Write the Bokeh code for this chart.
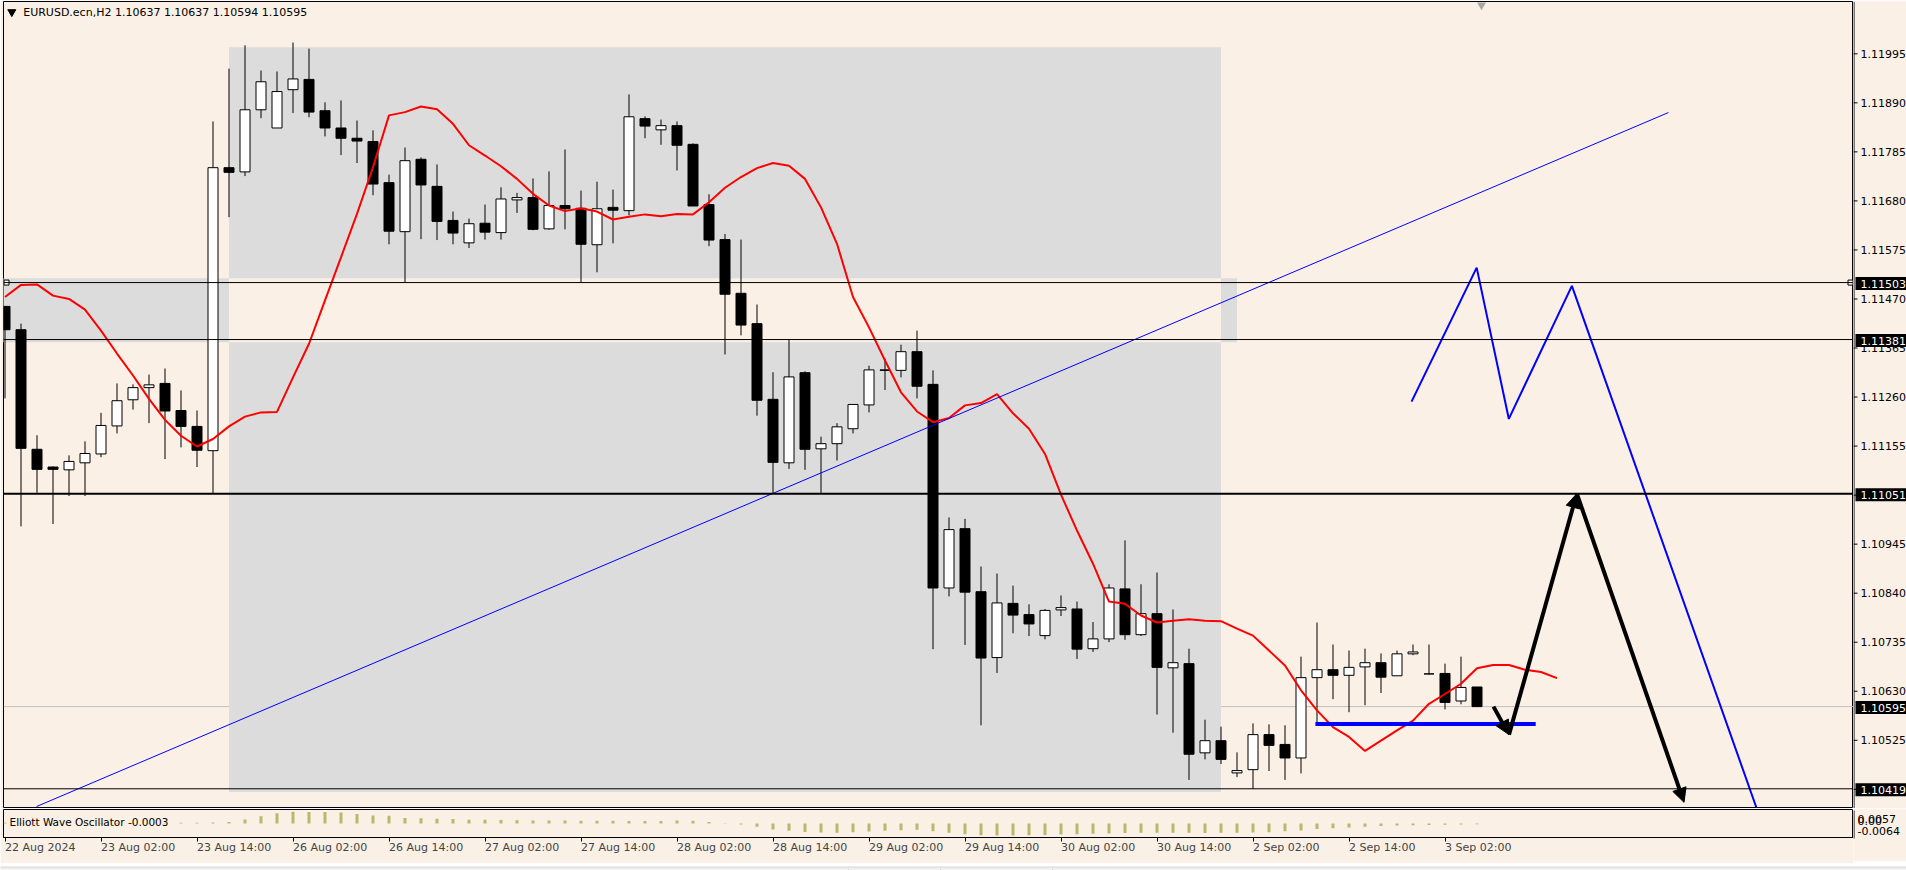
from bokeh.plotting import figure
from bokeh.models import (ColumnDataSource, Range1d, FixedTicker, Span, Label, Arrow, NormalHead)
from bokeh.layouts import column, row
from bokeh.embed import file_html
from bokeh.resources import INLINE
from bokeh.core.properties import value

# ---------------- data ----------------
symbol_title = "EURUSD.ecn,H2  1.10637 1.10637 1.10594 1.10595"
osc_title = "Elliott Wave Oscillator -0.0003"

opens = [1.11452, 1.11402, 1.11146, 1.11108, 1.11102, 1.11117, 1.11136, 1.11196, 1.11252, 1.11278,
         1.11287, 1.11229, 1.11195, 1.11143, 1.11749, 1.11740, 1.11873, 1.11834, 1.11916, 1.11938,
         1.11871, 1.11834, 1.11812, 1.11805, 1.11717, 1.11612, 1.11767, 1.11709, 1.11636, 1.11588,
         1.11630, 1.11610, 1.11680, 1.11685, 1.11618, 1.11668, 1.11662, 1.11584, 1.11664, 1.11657,
         1.11854, 1.11830, 1.11839, 1.11799, 1.11670, 1.11595, 1.11480, 1.11415, 1.11253, 1.11117,
         1.11310, 1.11147, 1.11158, 1.11190, 1.11241, 1.11316, 1.11315, 1.11355, 1.11285, 1.10849,
         1.10976, 1.10841, 1.10700, 1.10816, 1.10792, 1.10747, 1.10802, 1.10804, 1.10719, 1.10740,
         1.10847, 1.10749, 1.10794, 1.10678, 1.10687, 1.10496, 1.10522, 1.10453, 1.10460, 1.10535,
         1.10514, 1.10485, 1.10657, 1.10674, 1.10662, 1.10680, 1.10689, 1.10661, 1.10708, 1.10665,
         1.10666, 1.10607, 1.10637]
highs = [1.11452, 1.11415, 1.11176, 1.11109, 1.11133, 1.11163, 1.11224, 1.11287, 1.11285, 1.11306,
         1.11319, 1.11272, 1.11229, 1.11848, 1.11961, 1.12011, 1.11957, 1.11955, 1.12017, 1.12004,
         1.11889, 1.11893, 1.11850, 1.11829, 1.11734, 1.11792, 1.11771, 1.11756, 1.11655, 1.11640,
         1.11670, 1.11707, 1.11695, 1.11726, 1.11741, 1.11788, 1.11700, 1.11719, 1.11702, 1.11906,
         1.11859, 1.11852, 1.11848, 1.11801, 1.11692, 1.11607, 1.11595, 1.11456, 1.11311, 1.11381,
         1.11313, 1.11173, 1.11202, 1.11242, 1.11325, 1.11340, 1.11370, 1.11400, 1.11315, 1.11000,
         1.10997, 1.10895, 1.10880, 1.10854, 1.10814, 1.10804, 1.10833, 1.10820, 1.10776, 1.10857,
         1.10951, 1.10857, 1.10882, 1.10803, 1.10719, 1.10567, 1.10552, 1.10497, 1.10559, 1.10557,
         1.10555, 1.10702, 1.10775, 1.10728, 1.10715, 1.10719, 1.10709, 1.10715, 1.10728, 1.10728,
         1.10687, 1.10702, 1.10637]
lows = [1.11255, 1.10981, 1.11053, 1.10986, 1.11046, 1.11046, 1.11129, 1.11180, 1.11231, 1.11202,
        1.11125, 1.11150, 1.11108, 1.11052, 1.11643, 1.11731, 1.11855, 1.11834, 1.11866, 1.11857,
        1.11816, 1.11776, 1.11759, 1.11690, 1.11585, 1.11503, 1.11596, 1.11594, 1.11585, 1.11577,
        1.11595, 1.11595, 1.11652, 1.11615, 1.11616, 1.11617, 1.11503, 1.11525, 1.11587, 1.11647,
        1.11812, 1.11798, 1.11743, 1.11667, 1.11581, 1.11349, 1.11390, 1.11218, 1.11051, 1.11104,
        1.11102, 1.11051, 1.11122, 1.11180, 1.11225, 1.11273, 1.11300, 1.11255, 1.10718, 1.10831,
        1.10727, 1.10555, 1.10667, 1.10752, 1.10746, 1.10739, 1.10789, 1.10697, 1.10712, 1.10733,
        1.10738, 1.10746, 1.10578, 1.10539, 1.10438, 1.10482, 1.10472, 1.10444, 1.10419, 1.10457,
        1.10438, 1.10452, 1.10562, 1.10611, 1.10583, 1.10598, 1.10624, 1.10661, 1.10705, 1.10664,
        1.10589, 1.10600, 1.10594]
closes = [1.11402, 1.11148, 1.11103, 1.11103, 1.11120, 1.11137, 1.11197, 1.11250, 1.11278, 1.11284,
          1.11228, 1.11195, 1.11144, 1.11749, 1.11739, 1.11873, 1.11933, 1.11912, 1.11939, 1.11868,
          1.11834, 1.11812, 1.11806, 1.11714, 1.11613, 1.11764, 1.11712, 1.11634, 1.11609, 1.11629,
          1.11611, 1.11682, 1.11685, 1.11617, 1.11668, 1.11661, 1.11585, 1.11661, 1.11658, 1.11858,
          1.11838, 1.11839, 1.11797, 1.11667, 1.11594, 1.11478, 1.11412, 1.11251, 1.11118, 1.11301,
          1.11146, 1.11158, 1.11194, 1.11242, 1.11316, 1.11315, 1.11355, 1.11281, 1.10849, 1.10974,
          1.10840, 1.10699, 1.10817, 1.10791, 1.10772, 1.10801, 1.10807, 1.10718, 1.10740, 1.10849,
          1.10749, 1.10794, 1.10679, 1.10689, 1.10493, 1.10522, 1.10482, 1.10458, 1.10535, 1.10512,
          1.10485, 1.10657, 1.10674, 1.10662, 1.10679, 1.10689, 1.10658, 1.10708, 1.10712, 1.10665,
          1.10604, 1.10636, 1.10595]

# shifted moving average (red), one value per bar, runs 5 bars past the last candle
ma_values = [1.11472, 1.11498, 1.11499, 1.11475, 1.11468, 1.11445, 1.11400, 1.11351, 1.11304, 1.11254,
             1.11209, 1.11175, 1.11152, 1.11168, 1.11195, 1.11216, 1.11225, 1.11226, 1.11300, 1.11372,
             1.11465, 1.11557, 1.11650, 1.11750, 1.11861, 1.11868, 1.11880, 1.11874, 1.11843, 1.11797,
             1.11775, 1.11752, 1.11725, 1.11693, 1.11668, 1.11656, 1.11662, 1.11655, 1.11638, 1.11644,
             1.11649, 1.11645, 1.11650, 1.11649, 1.11675, 1.11706, 1.11729, 1.11748, 1.11759, 1.11753,
             1.11725, 1.11664, 1.11586, 1.11472, 1.11407, 1.11336, 1.11268, 1.11227, 1.11204, 1.11213,
             1.11240, 1.11245, 1.11264, 1.11223, 1.11190, 1.11136, 1.11049, 1.10972, 1.10901, 1.10820,
             1.10815, 1.10790, 1.10775, 1.10779, 1.10782, 1.10779, 1.10778, 1.10762, 1.10747, 1.10715,
             1.10683, 1.10630, 1.10587, 1.10551, 1.10530, 1.10500, 1.10522, 1.10544, 1.10565, 1.10601,
             1.10622, 1.10644, 1.10677, 1.10684, 1.10684, 1.10674, 1.10669, 1.10656]

ewo_values = [0.0003, 0.0002, 0.0002, 0.0002, 0.0002, 0.0002, 0.0002, 0.0002, 0.0002, 0.0002,
              0.0002, 0.0003, 0.0003, 0.0004, 0.0006, 0.0017, 0.0031, 0.0044, 0.0050, 0.0049,
              0.0049, 0.0047, 0.0041, 0.0034, 0.0033, 0.0024, 0.0022, 0.0020, 0.0019, 0.0016,
              0.0016, 0.0015, 0.0014, 0.0013, 0.0013, 0.0013, 0.0012, 0.0012, 0.0012, 0.0011,
              0.0011, 0.0011, 0.0013, 0.0012, 0.0006, 0.0001, -0.0004, -0.0014, -0.0026, -0.0031,
              -0.0036, -0.0039, -0.0040, -0.0038, -0.0034, -0.0031, -0.0029, -0.0027, -0.0033, -0.0040,
              -0.0046, -0.0050, -0.0051, -0.0051, -0.0050, -0.0049, -0.0047, -0.0046, -0.0044, -0.0043,
              -0.0041, -0.0040, -0.0040, -0.0040, -0.0040, -0.0041, -0.0040, -0.0040, -0.0039, -0.0037,
              -0.0033, -0.0030, -0.0024, -0.0020, -0.0017, -0.0014, -0.0011, -0.0009, -0.0008, -0.0006,
              -0.0005, -0.0004, -0.0003]

price_ticks = [1.11995, 1.11890, 1.11785, 1.11680, 1.11575, 1.11470, 1.11365, 1.11260,
               1.11155, 1.11050, 1.10945, 1.10840, 1.10735, 1.10630, 1.10525, 1.10420]
time_tick_bars = [0, 6, 12, 18, 24, 30, 36, 42, 48, 54, 60, 66, 72, 78, 84, 90]
time_tick_labels = ["22 Aug 2024", "23 Aug 02:00", "23 Aug 14:00", "26 Aug 02:00", "26 Aug 14:00",
                    "27 Aug 02:00", "27 Aug 14:00", "28 Aug 02:00", "28 Aug 14:00", "29 Aug 02:00",
                    "29 Aug 14:00", "30 Aug 02:00", "30 Aug 14:00", "2 Sep 02:00", "2 Sep 14:00",
                    "3 Sep 02:00"]
osc_scale_labels = ["0.0057", "0.00", "-0.0064"]

level_lines = [1.11503, 1.11381, 1.11051, 1.10419]
level_widths = [1, 1, 2, 1]
current_price = 1.10595

# drawn objects (bar index, price)
zone_left = [14, -1]
zone_right = [76, 77]
zone_bottom = [1.10412, 1.11375]
zone_top = [1.12007, 1.11512]

trend_x = [1.97, 103.96]
trend_y = [1.10381, 1.11867]

wave_x = [87.91, 91.98, 93.99, 97.93, 109.46]
wave_y = [1.11248, 1.11535, 1.11211, 1.11496, 1.10379]

support_x = [81.9, 95.67]
support_y = [1.10558, 1.10558]

arrow_x0 = [93.03, 94.0, 98.24]
arrow_y0 = [1.10595, 1.10535, 1.11051]
arrow_x1 = [94.0, 98.24, 104.94]
arrow_y1 = [1.10535, 1.11051, 1.10390]

# ---------------- geometry / styling ----------------
BG = "#FAF0E6"
GRAY = "#DCDCDC"
FONT = "DejaVu Sans"
BAR_PX = 16.0
X0_PAGE = 4.5
PRICE_REF, PY_REF, PX_PER_UNIT = 1.11995, 52.3, 46700.0
FRAME_L, FRAME_R = 3, 1853
PAGE_W, PAGE_H = 1906, 870
MAIN_TOP, MAIN_BOT = 1, 807
OSC_TOP, OSC_BOT = 809, 837
TABS_TOP = 861


def px_to_bar(px):
    return (px - X0_PAGE) / BAR_PX


def py_to_price(py):
    return PRICE_REF + (PY_REF - py) / PX_PER_UNIT


x_start = px_to_bar(FRAME_L)
x_end = px_to_bar(FRAME_R)


def base_fig(**kw):
    f = figure(output_backend="svg", toolbar_location=None,
               background_fill_color=BG, border_fill_color=BG, **kw)
    f.grid.visible = False
    return f


# ---------------- main price pane ----------------
p = base_fig(frame_width=FRAME_R - FRAME_L, frame_height=MAIN_BOT - MAIN_TOP,
             x_range=Range1d(x_start, x_end),
             y_range=Range1d(py_to_price(MAIN_BOT), py_to_price(MAIN_TOP)),
             x_axis_location=None, y_axis_location=None,
             min_border_left=FRAME_L, min_border_top=MAIN_TOP, min_border_bottom=1, min_border_right=0,
             outline_line_color="black", outline_line_width=1)

p.quad(left=zone_left, right=zone_right, bottom=zone_bottom, top=zone_top,
       fill_color=GRAY, line_color=None)
# overlapping part of the two rectangles shows inverted (background) colour
p.quad(left=[max(zone_left)], right=[min(zone_right)],
       bottom=[max(zone_bottom)], top=[min(zone_top)], fill_color=BG, line_color=None)

p.add_layout(Span(location=current_price, dimension="width", line_color="#C0C0C0",
                  line_width=1, level="underlay"))
for lvl, w in zip(level_lines, level_widths):
    p.add_layout(Span(location=lvl, dimension="width", line_color="black", line_width=w))

idx = list(range(len(opens)))
src = ColumnDataSource(dict(
    x=idx, high=highs, low=lows,
    top=[max(o, c) for o, c in zip(opens, closes)],
    bottom=[min(o, c) for o, c in zip(opens, closes)],
    fill=["#FFFFFF" if c >= o else "#000000" for o, c in zip(opens, closes)]))
p.segment(x0="x", y0="high", x1="x", y1="low", source=src, line_color="black", line_width=1)
p.vbar(x="x", width=0.625, top="top", bottom="bottom", source=src,
       fill_color="fill", line_color="black", line_width=1)

p.line(list(range(len(ma_values))), ma_values, line_color="#FF0000", line_width=2)

p.line(trend_x, trend_y, line_color="#0000FF", line_width=1)
p.line(wave_x, wave_y, line_color="#0000FF", line_width=2)
p.line(support_x, support_y, line_color="#0000FF", line_width=4)

for xa, ya_, xb, yb in zip(arrow_x0, arrow_y0, arrow_x1, arrow_y1):
    p.add_layout(Arrow(end=NormalHead(size=14, fill_color="black", line_color="black"),
                       x_start=xa, y_start=ya_, x_end=xb, y_end=yb,
                       line_color="black", line_width=4))

# selection handles of the 1.11503 line
p.scatter(x=[px_to_bar(6), px_to_bar(1850)], y=[level_lines[0]] * 2, marker="square", size=5,
          fill_color="white", line_color="black")
# chart-shift marker at the top
p.scatter(x=[px_to_bar(1481)], y=[py_to_price(4.5)], marker="inverted_triangle", size=9,
          fill_color="#A8A8A8", line_color=None)

# window title
p.scatter(x=[px_to_bar(11.3)], y=[py_to_price(11.5)], marker="inverted_triangle", size=8,
          fill_color="black", line_color="black")
p.add_layout(Label(x=px_to_bar(22.7), y=py_to_price(12), text=symbol_title,
                   text_font=FONT, text_font_size="11px", text_baseline="middle",
                   text_align="left", text_color="black"))

# ---------------- price scale (right) ----------------
ya = base_fig(frame_width=PAGE_W - FRAME_R, frame_height=MAIN_BOT + 1,
              x_range=Range1d(FRAME_R, PAGE_W),
              y_range=Range1d(py_to_price(MAIN_BOT + 1), py_to_price(0)),
              x_axis_location=None, y_axis_location=None,
              min_border_left=0, min_border_right=0, min_border_top=0, min_border_bottom=0,
              outline_line_color=None)
ya.segment(x0=[FRAME_R + 0.5], x1=[FRAME_R + 0.5], y0=[py_to_price(MAIN_BOT + 1)],
           y1=[py_to_price(0)], line_color="black", line_width=1)
ya.segment(x0=[FRAME_R] * len(price_ticks), x1=[FRAME_R + 4] * len(price_ticks),
           y0=price_ticks, y1=price_ticks, line_color="black", line_width=1)
ya.text(x=[FRAME_R + 7] * len(price_ticks), y=price_ticks,
        text=[f"{t:.5f}" for t in price_ticks], text_font=value(FONT),
        text_font_size=value("11px"), text_baseline="middle", text_align="left",
        text_color="black")
tags = level_lines + [current_price]
half = 6.5 / PX_PER_UNIT
ya.quad(left=[FRAME_R + 2] * len(tags), right=[PAGE_W] * len(tags),
        bottom=[t - half for t in tags], top=[t + half for t in tags],
        fill_color="black", line_color=None)
ya.text(x=[FRAME_R + 7] * len(tags), y=tags, text=[f"{t:.5f}" for t in tags],
        text_font=value(FONT), text_font_size=value("11px"), text_baseline="middle",
        text_align="left", text_color="white")

# ---------------- oscillator pane ----------------
OSC_LO, OSC_HI = -0.006, 0.006
osc_h = OSC_BOT - OSC_TOP
low_h = TABS_TOP - MAIN_BOT - 1


def osc_py(py):
    return OSC_HI - (py - OSC_TOP) / osc_h * (OSC_HI - OSC_LO)


q = base_fig(frame_width=FRAME_R - FRAME_L, frame_height=osc_h,
             x_range=p.x_range, y_range=Range1d(OSC_LO, OSC_HI),
             y_axis_location=None,
             min_border_left=FRAME_L, min_border_top=1, min_border_right=0,
             min_border_bottom=low_h - osc_h - 1,
             outline_line_color="black", outline_line_width=1)
q.vbar(x=list(range(len(ewo_values))), top=ewo_values, bottom=0, width=0.19,
       fill_color="#BDB76B", line_color=None)
q.add_layout(Label(x=px_to_bar(9), y=osc_py(821), text=osc_title, text_font=FONT,
                   text_font_size="10.5px", text_baseline="middle", text_align="left",
                   text_color="black"))

q.xaxis.ticker = FixedTicker(ticks=time_tick_bars)
q.xaxis.major_label_overrides = {t: lab for t, lab in zip(time_tick_bars, time_tick_labels)}
q.xaxis.major_label_orientation = -1e-9   # numeric orientation -> labels start at the tick
q.xaxis.major_label_text_font = FONT
q.xaxis.major_label_text_font_size = "11px"
q.xaxis.major_label_standoff = 6
q.xaxis.major_tick_out = 4
q.xaxis.major_tick_in = 0
q.xaxis.minor_tick_out = 0
q.xaxis.minor_tick_in = 0
q.xaxis.axis_line_color = "black"

# oscillator scale (right)
qa = base_fig(frame_width=PAGE_W - FRAME_R, frame_height=low_h,
              x_range=Range1d(FRAME_R, PAGE_W), y_range=Range1d(TABS_TOP, MAIN_BOT + 1),
              x_axis_location=None, y_axis_location=None,
              min_border_left=0, min_border_right=0, min_border_top=0, min_border_bottom=0,
              outline_line_color=None)
qa.segment(x0=[FRAME_R + 0.5], x1=[FRAME_R + 0.5], y0=[OSC_TOP], y1=[OSC_BOT],
           line_color="black", line_width=1)
qa.text(x=[FRAME_R + 4] * 3, y=[817.5, 819.5, 829], text=osc_scale_labels,
        text_font=value(FONT), text_font_size=value("11px"), text_baseline="middle",
        text_align="left", text_color="black")

# ---------------- terminal tab strip at the very bottom ----------------
st = base_fig(frame_width=PAGE_W, frame_height=PAGE_H - TABS_TOP,
              x_range=Range1d(0, PAGE_W), y_range=Range1d(PAGE_H, TABS_TOP),
              x_axis_location=None, y_axis_location=None,
              min_border_left=0, min_border_right=0, min_border_top=0, min_border_bottom=0,
              outline_line_color=None)
st.quad(left=[0], right=[PAGE_W], top=[TABS_TOP], bottom=[PAGE_H],
        fill_color="#F0F0F0", line_color=None)
st.segment(x0=[0], x1=[PAGE_W], y0=[TABS_TOP + 0.5], y1=[TABS_TOP + 0.5],
           line_color="#D0D0D0", line_width=1)
st.quad(left=[20, 1080], right=[203, PAGE_W + 2], top=[866, 866], bottom=[PAGE_H + 2] * 2,
        fill_color="#FAFAFA", line_color="#A0A0A0", line_width=1)
st.segment(x0=[848, 940, 1052], x1=[848, 940, 1052], y0=[864] * 3, y1=[PAGE_H] * 3,
           line_color="#B0B0B0", line_width=1)

layout = column(row(p, ya, spacing=0), row(q, qa, spacing=0), st, spacing=0)
open("out.html", "w").write(file_html(layout, INLINE))
